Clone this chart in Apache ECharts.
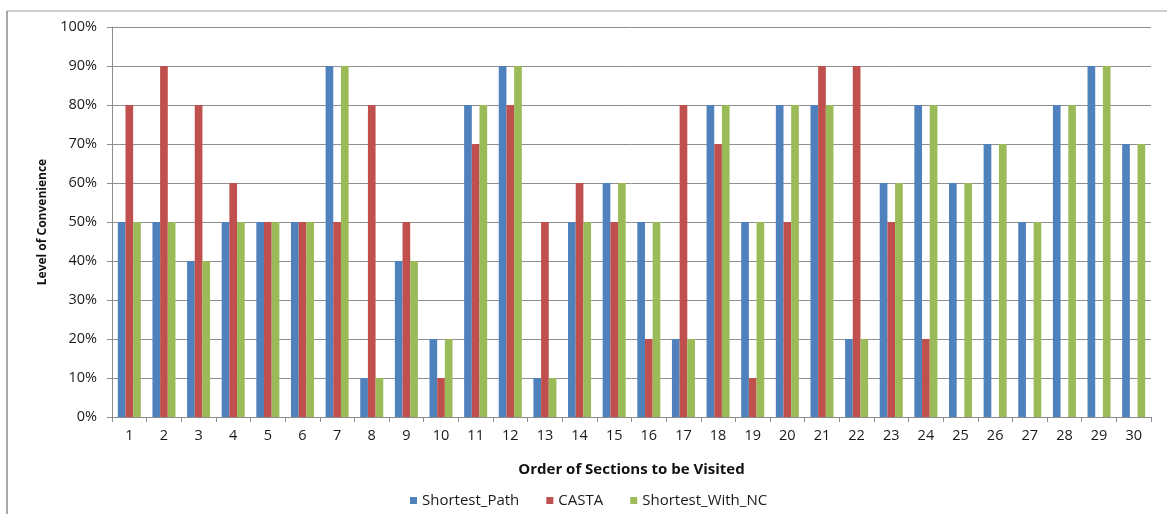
<!DOCTYPE html>
<html>
<head>
<meta charset="utf-8">
<style>
  html, body { margin: 0; padding: 0; background: #ffffff; }
  #chart { width: 1167px; height: 514px; }
</style>
<script src="https://cdn.jsdelivr.net/npm/echarts@6/dist/echarts.min.js"></script>
</head>
<body>
<div id="chart"></div>
<script>
// Sections in visiting order
const sections = ['1','2','3','4','5','6','7','8','9','10','11','12','13','14','15',
                  '16','17','18','19','20','21','22','23','24','25','26','27','28','29','30'];

// Level of convenience (%) per section for each routing strategy
const shortestPath = [50, 50, 40, 50, 50, 50, 90, 10, 40, 20, 80, 90, 10, 50, 60,
                      50, 20, 80, 50, 80, 80, 20, 60, 80, 60, 70, 50, 80, 90, 70];
const casta        = [80, 90, 80, 60, 50, 50, 50, 80, 50, 10, 70, 80, 50, 60, 50,
                      20, 80, 70, 10, 50, 90, 90, 50, 20, null, null, null, null, null, null];
const shortestWithNC = [50, 50, 40, 50, 50, 50, 90, 10, 40, 20, 80, 90, 10, 50, 60,
                        50, 20, 80, 50, 80, 80, 20, 60, 80, 60, 70, 50, 80, 90, 70];

const seriesNames = ['Shortest_Path', 'CASTA', 'Shortest_With_NC'];
const seriesColors = ['#4F81BD', '#C0504D', '#9BBB59'];

const FONT = '"Open Sans", "Noto Sans", sans-serif';
const chart = echarts.init(document.getElementById('chart'), null, { renderer: 'canvas' });

function barSeries(name, data, color) {
  return {
    name: name,
    type: 'bar',
    data: data,
    barGap: '0%',
    barCategoryGap: '33.5%',
    itemStyle: { color: color },
    animation: false
  };
}

chart.setOption({
  animation: false,
  backgroundColor: '#ffffff',
  textStyle: { fontFamily: FONT, color: '#1a1a1a' },
  grid: { left: 112, right: 16, top: 27, bottom: 97 },
  legend: {
    left: 405,
    top: 488,
    itemWidth: 7,
    itemHeight: 7,
    itemGap: 27,
    icon: 'rect',
    textStyle: { fontFamily: FONT, fontSize: 15, color: '#1a1a1a' },
    data: seriesNames
  },
  xAxis: {
    type: 'category',
    data: sections,
    name: 'Order of Sections to be Visited',
    nameLocation: 'middle',
    nameGap: 45,
    nameTextStyle: { fontFamily: FONT, fontSize: 15, fontWeight: 'bold', color: '#111' },
    axisLine: { lineStyle: { color: '#8c8c8c', width: 1 } },
    axisTick: { show: true, alignWithLabel: false, length: 5, lineStyle: { color: '#8c8c8c' } },
    axisLabel: { fontFamily: FONT, fontSize: 14.5, color: '#1a1a1a', margin: 11, interval: 0 },
    splitLine: { show: false }
  },
  yAxis: {
    type: 'value',
    min: 0,
    max: 100,
    interval: 10,
    name: 'Level of Convenience',
    nameLocation: 'middle',
    nameGap: 63,
    nameRotate: 90,
    nameTextStyle: { fontFamily: FONT, fontSize: 12, fontWeight: 'bold', color: '#111' },
    axisLine: { show: true, lineStyle: { color: '#8c8c8c', width: 1 } },
    axisTick: { show: true, length: 5, lineStyle: { color: '#8c8c8c' } },
    axisLabel: { fontFamily: FONT, fontSize: 14.5, color: '#1a1a1a', margin: 15, formatter: '{value}%' },
    splitLine: { show: true, lineStyle: { color: '#8f8f8f', width: 1 } }
  },
  graphic: [
    // chart-area frame along the top and left edges
    { type: 'line', shape: { x1: 7, y1: 11, x2: 1167, y2: 11 }, style: { stroke: '#9a9a9a', lineWidth: 1 }, silent: true },
    { type: 'line', shape: { x1: 7, y1: 11, x2: 7, y2: 514 }, style: { stroke: '#8a8a8a', lineWidth: 1.5 }, silent: true }
  ],
  series: [
    barSeries(seriesNames[0], shortestPath, seriesColors[0]),
    barSeries(seriesNames[1], casta, seriesColors[1]),
    barSeries(seriesNames[2], shortestWithNC, seriesColors[2])
  ]
});
</script>
</body>
</html>
